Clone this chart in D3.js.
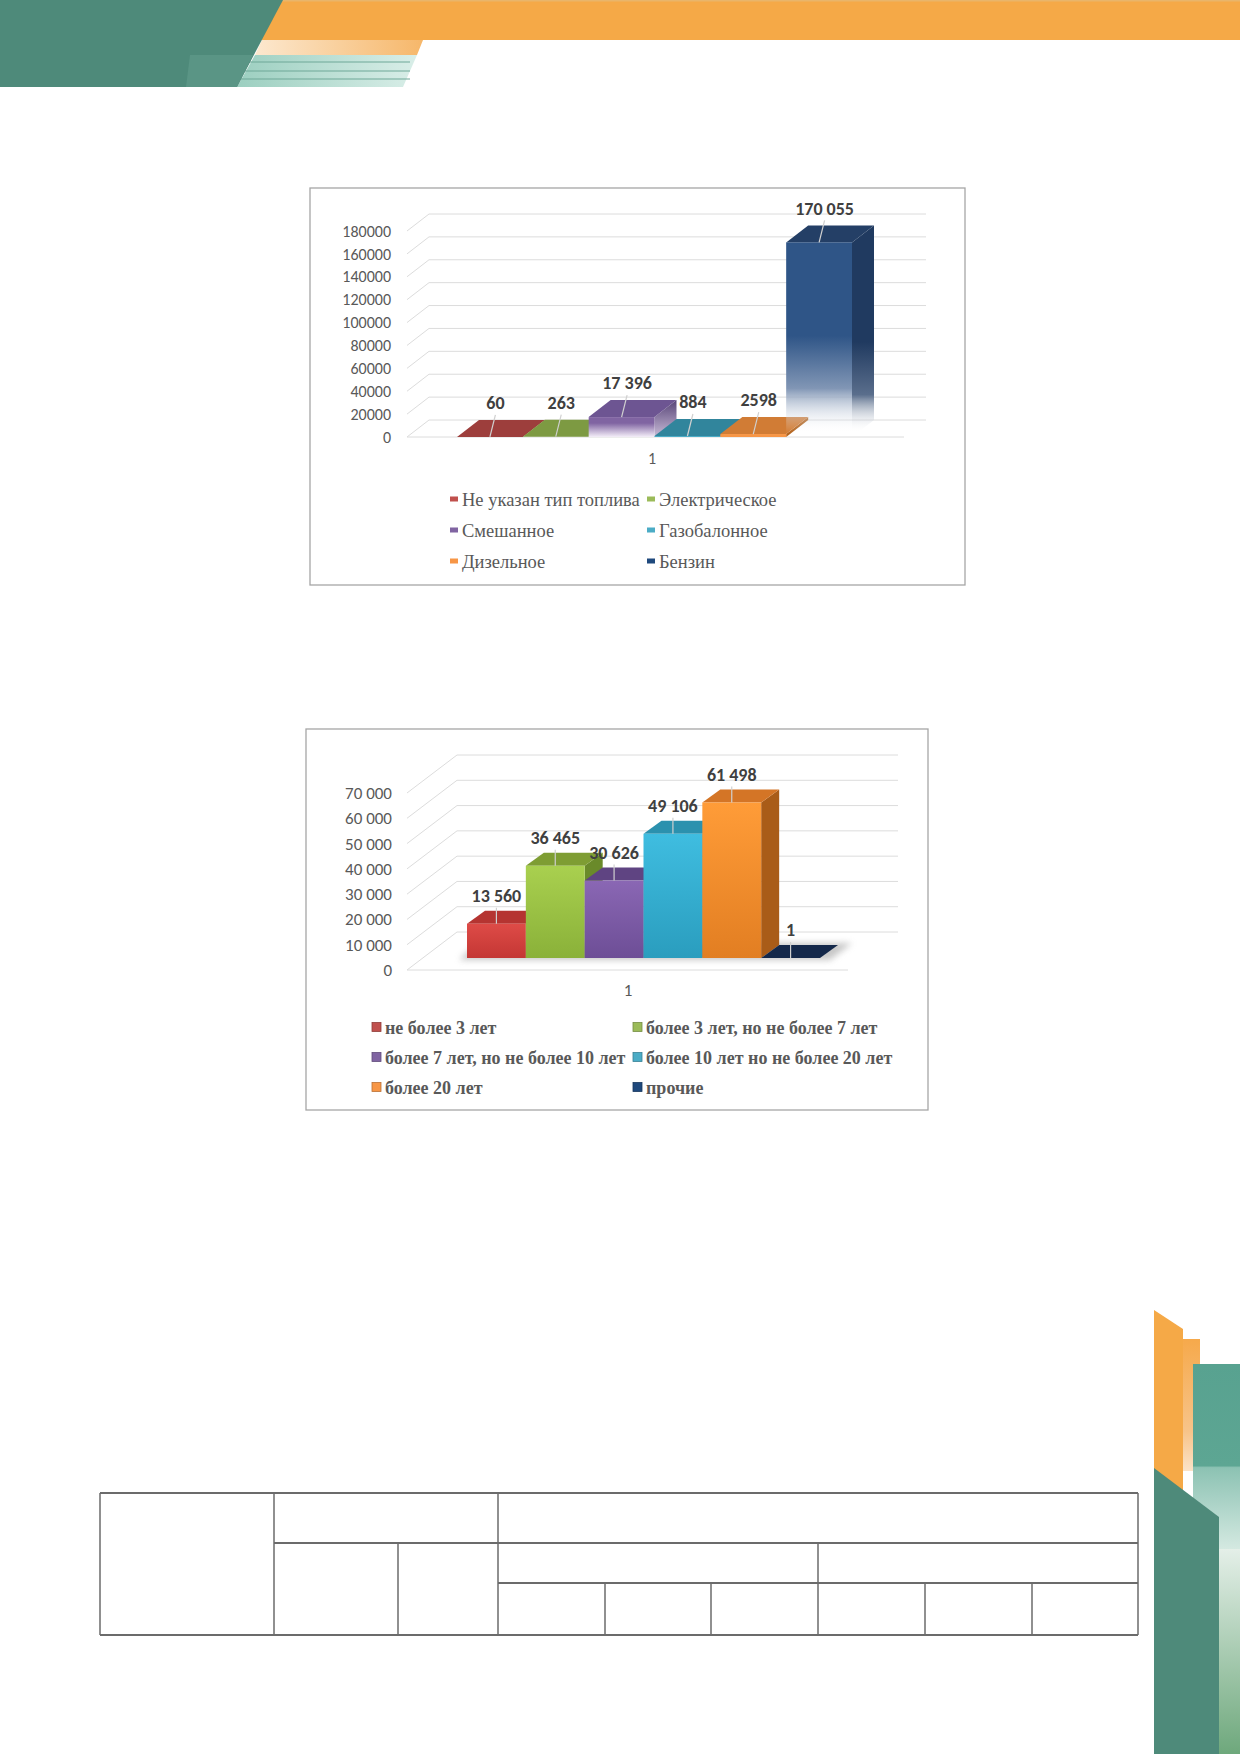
<!DOCTYPE html>
<html>
<head>
<meta charset="utf-8">
<script src="https://cdn.jsdelivr.net/npm/d3@7"></script>
<style>
  body { margin: 0; background: #fff; }
  svg { display: block; }
</style>
</head>
<body>
<svg id="page" width="1240" height="1754"></svg>
<script>
'use strict'

// chart 1: vehicles by fuel type
const fuelSeries = ['Не указан тип топлива', 'Электрическое', 'Смешанное', 'Газобалонное', 'Дизельное', 'Бензин']
const fuelValues = [60, 263, 17396, 884, 2598, 170055]
const fuelLabels = ['60', '263', '17 396', '884', '2598', '170 055']
const fuelTicks = [0, 20000, 40000, 60000, 80000, 100000, 120000, 140000, 160000, 180000]
const fuelTickLabels = ['0', '20000', '40000', '60000', '80000', '100000', '120000', '140000', '160000', '180000']

// chart 2: vehicles by age
const ageSeries = ['не более 3 лет', 'более 3 лет, но не более 7 лет', 'более 7 лет, но не более 10 лет', 'более 10 лет но не более 20 лет', 'более 20 лет', 'прочие']
const ageValues = [13560, 36465, 30626, 49106, 61498, 1]
const ageLabels = ['13 560', '36 465', '30 626', '49 106', '61 498', '1']
const ageTicks = [0, 10000, 20000, 30000, 40000, 50000, 60000, 70000]
const ageTickLabels = ['0', '10 000', '20 000', '30 000', '40 000', '50 000', '60 000', '70 000']

const categoryLabel = '1'

// face colours (front, top, side)
const fuelColors = [
  { front: '#C0504D', top: '#9D3E3C', side: '#7F2F2D', legend: '#C0504D' },
  { front: '#9BBB59', top: '#7D9A42', side: '#5F7733', legend: '#9BBB59' },
  { front: 'url(#fadePurple)', top: '#6D5592', side: 'url(#fadePurpleSide)', legend: '#8064A2' },
  { front: '#4BACC6', top: '#31859C', side: '#276A7C', legend: '#4BACC6' },
  { front: '#F79646', top: '#D17C35', side: '#B4651F', legend: '#F79646' },
  { front: 'url(#fadeBlue)', top: '#243F66', side: 'url(#fadeBlueSide)', legend: '#1F497D' }
]
const ageColors = [
  { front: 'url(#gRed)', top: '#B53431', side: '#8E2826', legend: '#C0504D' },
  { front: 'url(#gGreen)', top: '#7E9D33', side: '#6A8A2A', legend: '#9BBB59' },
  { front: 'url(#gPurple)', top: '#5F4482', side: '#4E3670', legend: '#8064A2' },
  { front: 'url(#gCyan)', top: '#2B91AE', side: '#1F7690', legend: '#4BACC6' },
  { front: 'url(#gOrange)', top: '#D47526', side: '#A95C18', legend: '#F79646' },
  { front: '#14284A', top: '#14284A', side: '#0E1D36', legend: '#1F497D' }
]

const sansFont = 'Carlito, Lato, "Open Sans", sans-serif'
const serifFont = '"Liberation Serif", "Times New Roman", serif'

const svg = d3.select('#page')
const defs = svg.append('defs')

function grad(id, stops, horizontal) {
  const g = defs.append('linearGradient').attr('id', id)
    .attr('x1', 0).attr('y1', 0)
    .attr('x2', horizontal ? 1 : 0).attr('y2', horizontal ? 0 : 1)
  stops.forEach(s => g.append('stop')
    .attr('offset', s[0]).attr('stop-color', s[1])
    .attr('stop-opacity', s[2] == null ? 1 : s[2]))
}

grad('fadeBlue', [[0, '#2F5587'], [0.48, '#2F5587'], [0.75, '#8196B5'], [0.98, '#ffffff', 0]])
grad('fadeBlueSide', [[0, '#203A60'], [0.55, '#203A60'], [0.8, '#5A6E8C'], [0.98, '#ffffff', 0]])
grad('fadePurple', [[0, '#8064A2'], [0.3, '#8064A2'], [1, '#f4eef8']])
grad('fadePurpleSide', [[0, '#574477'], [1, '#c9bcd8']])
grad('gRed', [[0, '#DE4B47'], [1, '#C43734']])
grad('gGreen', [[0, '#A9D04F'], [1, '#8AB139']])
grad('gPurple', [[0, '#8A67B4'], [1, '#6D4E96']])
grad('gCyan', [[0, '#3FBDE0'], [1, '#2A9DBE']])
grad('gOrange', [[0, '#FF9C38'], [1, '#E27E22']])
grad('peach', [[0, '#FCE8CF'], [1, '#F6B76A']], true)
grad('mint', [[0, '#9CCFC0'], [1, '#D9EEE8']], true)
grad('rTeal', [[0, '#58A290'], [0.55, '#5DA693'], [0.56, '#8CC2B3'], [1, '#D4E9E1']])
grad('rStrip', [[0, '#E4EFE8'], [1, '#6EA87C']])
grad('rOrange', [[0, '#F6A94B'], [0.7, '#F7C48A'], [1, '#FBE3C8']])

const blur = defs.append('filter').attr('id', 'shadow').attr('x', -0.2).attr('y', -0.5).attr('width', 1.4).attr('height', 2)
blur.append('feGaussianBlur').attr('stdDeviation', 3)

// ---- page decoration -------------------------------------------------
const deco = svg.append('g')
deco.append('polygon').attr('points', '262,0 1240,0 1240,40 262,40').attr('fill', '#F5A947')
deco.append('rect').attr('x', 262).attr('y', 0).attr('width', 978).attr('height', 1.5).attr('fill', '#E9B56A')
deco.append('polygon').attr('points', '262,40 423,40 417,55 255,55').attr('fill', 'url(#peach)')
deco.append('polygon').attr('points', '255,55 417,55 403,87 237,87').attr('fill', 'url(#mint)')
;[62, 71, 79].forEach(yy => {
  deco.append('line').attr('x1', 240).attr('x2', 410).attr('y1', yy).attr('y2', yy)
    .attr('stroke', '#6FA898').attr('stroke-width', 1.2)
})
deco.append('polygon').attr('points', '0,0 283,0 237,87 0,87').attr('fill', '#4E8A7A')
deco.append('polygon').attr('points', '190,55 253,55 237,87 186,87').attr('fill', '#5A9585')

// right side
deco.append('polygon').attr('points', '1154,1310 1183,1329 1183,1500 1154,1500').attr('fill', '#F5A947')
deco.append('rect').attr('x', 1183).attr('y', 1339).attr('width', 17).attr('height', 132).attr('fill', 'url(#rOrange)')
deco.append('rect').attr('x', 1193).attr('y', 1364).attr('width', 47).attr('height', 185).attr('fill', 'url(#rTeal)')
deco.append('polygon').attr('points', '1154,1468 1219,1517 1219,1754 1154,1754').attr('fill', '#4E8A7A')
deco.append('rect').attr('x', 1219).attr('y', 1549).attr('width', 21).attr('height', 205).attr('fill', 'url(#rStrip)')

// ---- 3D column chart -------------------------------------------------
function drawChart(cfg) {
  const g = svg.append('g')
  const [fx, fy, fw, fh] = cfg.frame
  g.append('rect').attr('x', fx).attr('y', fy).attr('width', fw).attr('height', fh)
    .attr('fill', '#fff').attr('stroke', '#A6A6A6').attr('stroke-width', 1.3)

  const y = d3.scaleLinear().domain([0, cfg.max]).range(cfg.yRange)
  const x = d3.scaleBand().domain(cfg.series).range(cfg.barRange).paddingInner(0).paddingOuter(0)
  const [wdx, wdy] = cfg.wallDepth
  const [wx0, wx1] = cfg.wallX

  // walls and gridlines
  const grid = g.append('g').attr('stroke', '#DCDCDC').attr('stroke-width', 1).attr('fill', 'none')
  grid.selectAll('line.back').data(cfg.ticks).join('line').attr('class', 'back')
    .attr('x1', wx0 + wdx).attr('x2', wx1 + wdx)
    .attr('y1', d => y(d) + wdy).attr('y2', d => y(d) + wdy)
  grid.selectAll('line.side').data(cfg.ticks).join('line').attr('class', 'side')
    .attr('x1', wx0).attr('x2', wx0 + wdx)
    .attr('y1', d => y(d)).attr('y2', d => y(d) + wdy)
  grid.append('line').attr('x1', wx0).attr('x2', wx1).attr('y1', y(0)).attr('y2', y(0))

  // value axis
  const axis = d3.axisLeft(y).tickValues(cfg.ticks)
    .tickFormat((d, i) => cfg.tickLabels[i]).tickSize(0).tickPadding(0)
  const ax = g.append('g').attr('transform', `translate(${cfg.tickX},0)`).call(axis)
  ax.select('.domain').remove()
  ax.attr('font-family', sansFont).attr('font-size', cfg.tickSize)
  ax.selectAll('text').attr('fill', '#595959')

  // bars
  const off = cfg.barShift
  const [dx, dy] = cfg.barDepth
  const bars = g.append('g')
  if (cfg.shadow) {
    const b = y(0) + off
    bars.append('polygon')
      .attr('points', [[cfg.barRange[0] - 8, b + 2], [cfg.barRange[1] + 10, b + 2],
        [cfg.barRange[1] + dx + 14, b + dy - 2], [cfg.barRange[0] + dx - 8, b + dy - 2]].join(' '))
      .attr('fill', '#9a9a9a').attr('opacity', 0.55).attr('filter', 'url(#shadow)')
  }
  cfg.values.forEach((v, i) => {
    const c = cfg.colors[i]
    const bx = x(cfg.series[i])
    const bw = x.bandwidth()
    const top = y(v) + off
    const base = y(0) + off
    bars.append('path')
      .attr('d', `M${bx + bw},${top}L${bx + bw + dx},${top + dy}L${bx + bw + dx},${base + dy}L${bx + bw},${base}Z`)
      .attr('fill', c.side)
    bars.append('path')
      .attr('d', `M${bx},${top}L${bx + bw},${top}L${bx + bw + dx},${top + dy}L${bx + dx},${top + dy}Z`)
      .attr('fill', c.top)
    if (base - top > 0.5) {
      bars.append('rect').attr('x', bx).attr('y', top).attr('width', bw).attr('height', base - top)
        .attr('fill', c.front)
    }
  })

  // data labels with leader lines
  const lab = g.append('g')
  cfg.values.forEach((v, i) => {
    const bx = x(cfg.series[i]) + x.bandwidth() / 2
    const top = y(v) + off
    const lx = bx + dx * cfg.labelDx
    const ly = top - cfg.labelGap
    lab.append('line').attr('x1', lx).attr('y1', ly + 12).attr('x2', bx).attr('y2', top)
      .attr('stroke', '#D0D0D0').attr('stroke-width', 1.2)
    lab.append('text').attr('x', lx).attr('y', ly).attr('dy', '0.35em')
      .attr('text-anchor', 'middle').attr('font-family', sansFont)
      .attr('font-weight', 'bold').attr('font-size', cfg.labelSize).attr('fill', '#404040')
      .text(cfg.labels[i])
  })

  // category label
  g.append('text').attr('x', cfg.catPos[0]).attr('y', cfg.catPos[1]).attr('dy', '0.35em')
    .attr('text-anchor', 'middle').attr('font-family', sansFont).attr('font-size', cfg.tickSize)
    .attr('fill', '#595959').text(categoryLabel)

  // legend, two columns
  const leg = g.append('g')
  cfg.series.forEach((s, i) => {
    const col = i % 2
    const row = Math.floor(i / 2)
    const lx = cfg.legend.cols[col]
    const ly = cfg.legend.rows[row]
    const [mw, mh] = cfg.legend.marker
    leg.append('rect').attr('x', lx).attr('y', ly - mh / 2 - 1).attr('width', mw).attr('height', mh)
      .attr('fill', cfg.colors[i].legend)
      .attr('stroke', cfg.legend.bevel ? d3.color(cfg.colors[i].legend).darker(0.8) : 'none')
      .attr('stroke-width', 0.8)
    leg.append('text').attr('x', lx + mw + 4).attr('y', ly).attr('dy', '0.33em')
      .attr('font-family', serifFont).attr('font-size', cfg.legend.size)
      .attr('font-weight', cfg.legend.weight).attr('fill', '#595959')
      .text(s)
  })
}

drawChart({
  frame: [310, 188, 655, 397],
  series: fuelSeries, values: fuelValues, labels: fuelLabels, colors: fuelColors,
  ticks: fuelTicks, tickLabels: fuelTickLabels, max: 180000,
  yRange: [437, 231], tickX: 391, tickSize: 16,
  wallX: [407, 904], wallDepth: [22, -17],
  barRange: [457, 852], barShift: 0, barDepth: [22, -17],
  labelGap: 34, labelSize: 18, labelDx: 0.25,
  catPos: [652, 458],
  legend: { cols: [450, 647], rows: [500, 531, 562], marker: [8, 5], size: 18.5, weight: 'normal', bevel: false }
})

drawChart({
  frame: [306, 729, 622, 381],
  series: ageSeries, values: ageValues, labels: ageLabels, colors: ageColors,
  ticks: ageTicks, tickLabels: ageTickLabels, max: 70000,
  yRange: [970, 793], tickX: 392, tickSize: 17,
  wallX: [407, 848], wallDepth: [50, -38],
  barRange: [467, 820], barShift: -12, barDepth: [18, -13],
  labelGap: 28, labelSize: 18, labelDx: 0, shadow: true,
  catPos: [628, 990],
  legend: { cols: [372, 633], rows: [1028, 1058, 1088], marker: [9, 9], size: 18, weight: 'bold', bevel: true }
})

// ---- empty table at the bottom ---------------------------------------
const tbl = svg.append('g').attr('stroke', '#6B6B6B').attr('stroke-width', 1.5)
const tTop = 1493, tMid = 1543, tLow = 1583, tBot = 1635
const hLines = [[100, 1138, tTop], [274, 1138, tMid], [498, 1138, tLow], [100, 1138, tBot]]
hLines.forEach(l => tbl.append('line').attr('x1', l[0]).attr('x2', l[1]).attr('y1', l[2]).attr('y2', l[2]).attr('stroke-width', 2))
const vLines = [[100, tTop], [274, tTop], [398, tMid], [498, tTop], [605, tLow], [711, tLow], [818, tMid], [925, tLow], [1032, tLow], [1138, tTop]]
vLines.forEach(l => tbl.append('line').attr('x1', l[0]).attr('x2', l[0]).attr('y1', l[1]).attr('y2', tBot))
</script>
</body>
</html>
